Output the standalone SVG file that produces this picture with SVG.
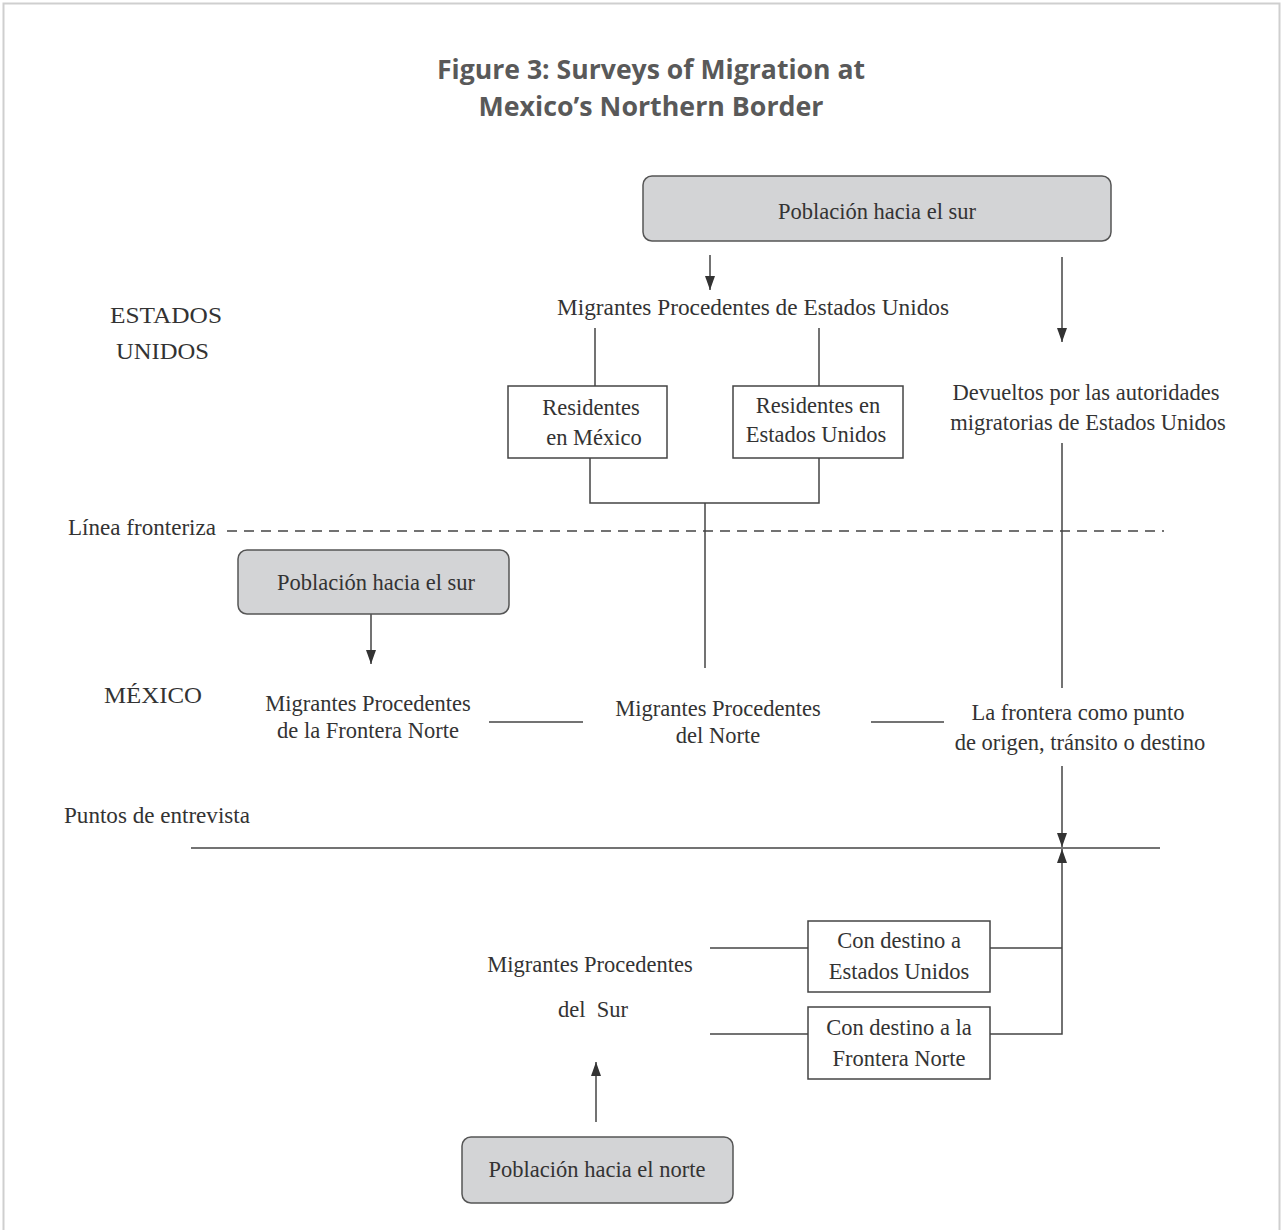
<svg xmlns="http://www.w3.org/2000/svg" width="1283" height="1230" viewBox="0 0 1283 1230">
<style>
.t{font-family:"Liberation Serif",serif;font-size:22.5px;fill:#333;text-anchor:middle}
.l{text-anchor:start}
.title{font-family:"Open Sans","Noto Sans",sans-serif;font-weight:bold;font-size:26px;fill:#595959;text-anchor:middle}
.gbox{fill:#d3d4d6;stroke:#555;stroke-width:1.5}
.wbox{fill:#fff;stroke:#444;stroke-width:1.5}
.c{stroke:#444;stroke-width:1.5;fill:none}
</style>
<defs>
<marker id="ah" viewBox="0 0 14 10" refX="14" refY="5" markerWidth="14" markerHeight="10" markerUnits="userSpaceOnUse" orient="auto">
<path d="M0,0 L14,5 L0,10 z" fill="#333"/>
</marker>
</defs>
<rect x="0" y="0" width="1283" height="1230" fill="#fff"/>
<rect x="3.5" y="3.5" width="1276" height="1240" fill="none" stroke="#cfcfcf" stroke-width="2"/>
<g id="title">
<text class="title" x="651" y="79" textLength="428" lengthAdjust="spacingAndGlyphs">Figure 3: Surveys of Migration at</text>
<text class="title" x="651" y="116" textLength="345" lengthAdjust="spacingAndGlyphs">Mexico’s Northern Border</text>
</g>
<g id="labels">
<text class="t l" x="110" y="323" textLength="112" lengthAdjust="spacingAndGlyphs">ESTADOS</text>
<text class="t l" x="116" y="359" textLength="93" lengthAdjust="spacingAndGlyphs">UNIDOS</text>
<text class="t l" x="68" y="535" textLength="148" lengthAdjust="spacingAndGlyphs">Línea fronteriza</text>
<text class="t l" x="104" y="703" textLength="98" lengthAdjust="spacingAndGlyphs">MÉXICO</text>
<text class="t l" x="64" y="823" textLength="186" lengthAdjust="spacingAndGlyphs">Puntos de entrevista</text>
</g>
<g id="connectors">
<line class="c" x1="710" y1="255" x2="710" y2="290" marker-end="url(#ah)"/>
<line class="c" x1="1062" y1="257" x2="1062" y2="342" marker-end="url(#ah)"/>
<line class="c" x1="595" y1="328" x2="595" y2="387"/>
<line class="c" x1="819" y1="328" x2="819" y2="387"/>
<polyline class="c" points="590,458 590,503 819,503 819,458"/>
<line class="c" x1="705" y1="503" x2="705" y2="668"/>
<line class="c" x1="227" y1="531" x2="1164" y2="531" stroke-dasharray="10,7"/>
<line class="c" x1="1062" y1="443" x2="1062" y2="688"/>
<line class="c" x1="371" y1="614" x2="371" y2="664" marker-end="url(#ah)"/>
<line class="c" x1="489" y1="722" x2="583" y2="722"/>
<line class="c" x1="871" y1="722" x2="944" y2="722"/>
<line class="c" x1="1062" y1="766" x2="1062" y2="847" marker-end="url(#ah)"/>
<line class="c" x1="191" y1="848" x2="1160" y2="848"/>
<polyline class="c" points="990,948 1062,948"/>
<polyline class="c" points="990,1034 1062,1034 1062,849" marker-end="url(#ah)"/>
<line class="c" x1="710" y1="948" x2="808" y2="948"/>
<line class="c" x1="710" y1="1034" x2="808" y2="1034"/>
<line class="c" x1="596" y1="1122" x2="596" y2="1062" marker-end="url(#ah)"/>
</g>
<g id="n_sur_top">
<rect class="gbox" x="643" y="176" width="468" height="65" rx="9"/>
<text class="t" x="877" y="219">Población hacia el sur</text>
</g>
<g id="n_mig_eeuu">
<text class="t" x="753" y="315" textLength="392" lengthAdjust="spacingAndGlyphs">Migrantes Procedentes de Estados Unidos</text>
</g>
<g id="n_res_mx">
<rect class="wbox" x="508" y="386" width="159" height="72"/>
<text class="t" x="591" y="415">Residentes</text>
<text class="t" x="594" y="445">en México</text>
</g>
<g id="n_res_eu">
<rect class="wbox" x="733" y="386" width="170" height="72"/>
<text class="t" x="818" y="413">Residentes en</text>
<text class="t" x="816" y="442">Estados Unidos</text>
</g>
<g id="n_devueltos">
<text class="t" x="1086" y="400">Devueltos por las autoridades</text>
<text class="t" x="1088" y="430">migratorias de Estados Unidos</text>
</g>
<g id="n_sur_left">
<rect class="gbox" x="238" y="550" width="271" height="64" rx="9"/>
<text class="t" x="376" y="590">Población hacia el sur</text>
</g>
<g id="n_mig_frontera">
<text class="t" x="368" y="711">Migrantes Procedentes</text>
<text class="t" x="368" y="738">de la Frontera Norte</text>
</g>
<g id="n_mig_norte">
<text class="t" x="718" y="716">Migrantes Procedentes</text>
<text class="t" x="718" y="743">del Norte</text>
</g>
<g id="n_frontera">
<text class="t" x="1078" y="720">La frontera como punto</text>
<text class="t" x="1080" y="750">de origen, tránsito o destino</text>
</g>
<g id="n_mig_sur">
<text class="t" x="590" y="972">Migrantes Procedentes</text>
<text class="t" x="593" y="1017" xml:space="preserve">del  Sur</text>
</g>
<g id="n_dest_eu">
<rect class="wbox" x="808" y="921" width="182" height="71"/>
<text class="t" x="899" y="948">Con destino a</text>
<text class="t" x="899" y="979">Estados Unidos</text>
</g>
<g id="n_dest_fn">
<rect class="wbox" x="808" y="1007" width="182" height="72"/>
<text class="t" x="899" y="1035">Con destino a la</text>
<text class="t" x="899" y="1066">Frontera Norte</text>
</g>
<g id="n_norte">
<rect class="gbox" x="462" y="1137" width="271" height="66" rx="9"/>
<text class="t" x="597" y="1177">Población hacia el norte</text>
</g>
</svg>
